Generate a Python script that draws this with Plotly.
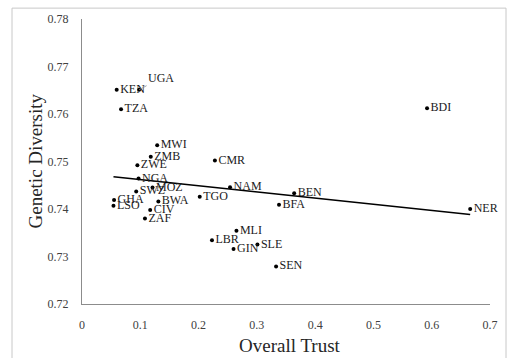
import numpy as np
import plotly.graph_objects as go

countries = ["KEN", "TZA", "BDI", "MWI", "ZMB", "ZWE", "CMR", "NGA", "SWZ", "MOZ",
             "NAM", "BEN", "GHA", "LSO", "BWA", "TGO", "BFA", "NER", "CIV", "ZAF",
             "MLI", "LBR", "SLE", "GIN", "SEN"]
trust = [0.0595, 0.067, 0.592, 0.129, 0.118, 0.095, 0.228, 0.097, 0.093, 0.121,
         0.254, 0.364, 0.055, 0.054, 0.131, 0.202, 0.338, 0.666, 0.117, 0.108,
         0.265, 0.223, 0.301, 0.260, 0.333]
diversity = [0.7651, 0.7610, 0.7612, 0.7534, 0.7510, 0.7492, 0.7502, 0.7464, 0.7437, 0.7445,
             0.7446, 0.7433, 0.7419, 0.7407, 0.7416, 0.7426, 0.7409, 0.7400, 0.7398, 0.7380,
             0.7354, 0.7334, 0.7325, 0.7316, 0.7279]
# Uganda label is placed with a leader line
uga_trust = [0.098]
uga_div = [0.7651]

all_x = np.array(trust + uga_trust)
all_y = np.array(diversity + uga_div)
slope, intercept = np.polyfit(all_x, all_y, 1)
tx = np.array([all_x.min(), all_x.max()])
ty = slope * tx + intercept

FONT = "Liberation Serif"

fig = go.Figure()
fig.add_trace(go.Scatter(x=tx, y=ty, mode="lines",
                         line=dict(color="black", width=1.5),
                         hoverinfo="skip", showlegend=False))
fig.add_trace(go.Scatter(x=trust, y=diversity, mode="markers+text",
                         text=countries, textposition="middle right",
                         textfont=dict(family=FONT, size=12, color="#1a1a1a"),
                         marker=dict(color="black", size=4), cliponaxis=False,
                         showlegend=False))
fig.add_trace(go.Scatter(x=uga_trust, y=uga_div, mode="markers",
                         marker=dict(color="black", size=4),
                         showlegend=False))
fig.add_annotation(x=uga_trust[0], y=uga_div[0], text="UGA", showarrow=True,
                   ax=22, ay=-12, arrowhead=0, arrowwidth=0.8, arrowcolor="#8c8c8c",
                   font=dict(family=FONT, size=12, color="#1a1a1a"))

# axis titles
fig.add_annotation(xref="paper", yref="paper", x=(290 - 82) / 408, y=(304 - 346) / 288,
                   xanchor="center", yanchor="middle",
                   text="Overall Trust", showarrow=False,
                   font=dict(family=FONT, size=19, color="#262626"))
fig.add_annotation(xref="paper", yref="paper", x=(35 - 82) / 408, y=(304 - 160) / 288,
                   xanchor="center", yanchor="middle",
                   text="Genetic Diversity", showarrow=False, textangle=-90,
                   font=dict(family=FONT, size=19, color="#262626"))

# outer chart border
fig.add_shape(type="rect", xref="paper", yref="paper",
              x0=-70 / 408, x1=424 / 408, y0=-0.3, y1=299 / 288,
              line=dict(color="#c8c8c8", width=1), fillcolor="rgba(0,0,0,0)", layer="below")

fig.update_layout(
    width=510, height=358,
    margin=dict(l=82, r=20, t=16, b=54),
    plot_bgcolor="white", paper_bgcolor="white",
    font=dict(family=FONT),
    xaxis=dict(range=[0, 0.7], dtick=0.1, tick0=0, showgrid=False, zeroline=False,
               showline=True, linecolor="#8c8c8c", linewidth=1.25,
               ticks="outside", ticklen=9, tickcolor="rgba(0,0,0,0)",
               tickfont=dict(family=FONT, size=12, color="#404040")),
    yaxis=dict(range=[0.72, 0.78], dtick=0.01, tick0=0.72, showgrid=False, zeroline=False,
               showline=True, linecolor="#8c8c8c", linewidth=1.25, tickformat=".2f",
               ticks="outside", ticklen=10, tickcolor="rgba(0,0,0,0)",
               tickfont=dict(family=FONT, size=12, color="#404040")),
)

fig.write_html("out.html")
